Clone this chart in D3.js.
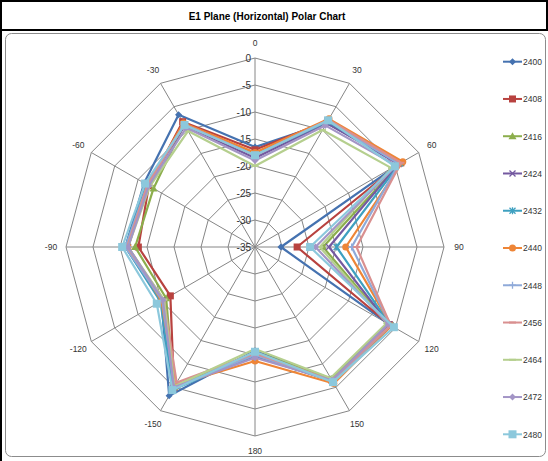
<!DOCTYPE html>
<html><head><meta charset="utf-8">
<script src="https://cdn.jsdelivr.net/npm/d3@7"></script>
<style>
html,body{margin:0;padding:0;background:#fff;}
svg{display:block;font-family:"Liberation Sans",Arial,sans-serif;}
</style></head>
<body><svg id="c" width="548" height="461"></svg>
<script>
const angleLabels = ["0","30","60","90","120","150","180","-150","-120","-90","-60","-30"];
const radialTicks = [-35,-30,-25,-20,-15,-10,-5,0];
const seriesNames = ["2400","2408","2416","2424","2432","2440","2448","2456","2464","2472","2480"];
const s2400 = [-16.5,-8.5,-4.0,-30.2,-6.0,-6.8,-15.8,-3.2,-15.0,-11.0,-11.3,-6.7];
const s2408 = [-17.0,-8.0,-3.8,-27.2,-6.3,-6.5,-15.5,-5.0,-16.9,-13.4,-12.3,-8.2];
const s2416 = [-17.8,-8.2,-4.0,-22.4,-6.5,-6.8,-15.5,-5.0,-16.0,-12.8,-13.3,-8.8];
const s2424 = [-18.5,-8.5,-4.3,-21.3,-6.3,-6.3,-14.8,-4.8,-15.2,-11.5,-12.0,-9.0];
const s2432 = [-18.0,-8.2,-4.0,-19.9,-6.0,-6.3,-15.0,-4.5,-14.8,-11.0,-11.8,-8.8];
const s2440 = [-17.5,-7.6,-3.4,-18.2,-5.8,-5.8,-13.9,-5.5,-15.0,-11.5,-12.0,-8.5];
const s2448 = [-18.0,-8.0,-4.2,-17.1,-6.0,-6.3,-15.0,-5.0,-15.2,-11.0,-12.0,-8.8];
const s2456 = [-18.0,-7.8,-3.8,-16.2,-6.0,-6.5,-15.3,-6.0,-15.5,-11.3,-12.0,-8.8];
const s2464 = [-20.0,-10.0,-5.8,-23.0,-6.8,-7.0,-16.1,-5.2,-15.5,-11.5,-12.5,-10.2];
const s2472 = [-19.0,-9.0,-4.8,-23.8,-6.5,-6.5,-14.5,-5.0,-15.3,-11.5,-12.3,-9.5];
const s2480 = [-18.0,-7.9,-5.1,-24.8,-5.3,-6.1,-15.6,-4.4,-14.0,-10.4,-11.5,-8.9];
const seriesValues = [s2400,s2408,s2416,s2424,s2432,s2440,s2448,s2456,s2464,s2472,s2480];
const colors = ["#4572B0","#B8423F","#8CAE4C","#7459A0","#3EA0C0","#EE8537","#8FAAD9","#D99090","#B5CF8E","#A395C6","#8CC8DC"];
const markers = ["diamond","square","triangle","x","star","circle","plus","dash","dash","diamond","bigsquare"];

const svg = d3.select("#c");
// frames
svg.append("rect").attr("x",1).attr("y",1).attr("width",546).attr("height",29).attr("fill","none").attr("stroke","#000").attr("stroke-width",2);
svg.append("line").attr("x1",1).attr("x2",1).attr("y1",1).attr("y2",461).attr("stroke","#000").attr("stroke-width",2);
svg.append("rect").attr("x",5.5).attr("y",33.5).attr("width",540).attr("height",423).attr("rx",6).attr("fill","none").attr("stroke","#8c8c8c").attr("stroke-width",1);
svg.append("text").attr("x",267).attr("y",20).attr("text-anchor","middle").attr("font-size",10).attr("font-weight","bold").text("E1 Plane (Horizontal) Polar Chart");

const cx = 255, cy = 247, R = 189;
const r = d3.scaleLinear().domain([-35,0]).range([0,R]);
const ang = d3.scaleLinear().domain([0,angleLabels.length]).range([0,2*Math.PI]);
const pt = (i,v) => [cx + r(v)*Math.sin(ang(i)), cy - r(v)*Math.cos(ang(i))];

const g = svg.append("g");
radialTicks.slice(1).forEach(t => {
  const pts = angleLabels.map((_,i)=>pt(i,t));
  g.append("path").attr("d", d3.line()(pts)+"Z").attr("fill","none").attr("stroke","#868686").attr("stroke-width",1);
});
angleLabels.forEach((a,i)=>{
  const [x,y] = pt(i,0);
  g.append("line").attr("x1",cx).attr("y1",cy).attr("x2",x).attr("y2",y).attr("stroke","#868686").attr("stroke-width",1);
  const lx = cx + (R+15)*Math.sin(ang(i)), ly = cy - (R+15)*Math.cos(ang(i));
  g.append("text").attr("x",lx).attr("y",ly+3).attr("text-anchor","middle").attr("font-size",8.5).attr("fill","#333").text(a);
});
radialTicks.forEach(t=>{
  g.append("text").attr("x",cx-4).attr("y",cy - r(t)+3.5).attr("text-anchor","end").attr("font-size",10).attr("fill","#333").text(t);
});

function drawMarker(sel, type, x, y, col){
  if(type==="diamond"){ sel.append("path").attr("d",`M${x},${y-3.5}L${x+3.5},${y}L${x},${y+3.5}L${x-3.5},${y}Z`).attr("fill",col); }
  else if(type==="square"){ sel.append("rect").attr("x",x-3.5).attr("y",y-3.5).attr("width",7).attr("height",7).attr("fill",col); }
  else if(type==="bigsquare"){ sel.append("rect").attr("x",x-4).attr("y",y-4).attr("width",8).attr("height",8).attr("fill",col); }
  else if(type==="triangle"){ sel.append("path").attr("d",`M${x},${y-4}L${x+4},${y+3}L${x-4},${y+3}Z`).attr("fill",col); }
  else if(type==="x"){ sel.append("path").attr("d",`M${x-3},${y-3}L${x+3},${y+3}M${x+3},${y-3}L${x-3},${y+3}`).attr("stroke",col).attr("stroke-width",1.3); }
  else if(type==="star"){ sel.append("path").attr("d",`M${x-3},${y-3}L${x+3},${y+3}M${x+3},${y-3}L${x-3},${y+3}M${x},${y-3.5}L${x},${y+3.5}`).attr("stroke",col).attr("stroke-width",1.3); }
  else if(type==="circle"){ sel.append("circle").attr("cx",x).attr("cy",y).attr("r",3.5).attr("fill",col); }
  else if(type==="plus"){ sel.append("path").attr("d",`M${x-3.5},${y}L${x+3.5},${y}M${x},${y-3.5}L${x},${y+3.5}`).attr("stroke",col).attr("stroke-width",1.3); }
  else if(type==="dash"){ sel.append("path").attr("d",`M${x-3.5},${y}L${x+3.5},${y}`).attr("stroke",col).attr("stroke-width",2); }
}

const sg = svg.append("g");
seriesValues.forEach((vals,si)=>{
  const pts = vals.map((v,i)=>pt(i,v));
  sg.append("path").attr("d", d3.line()(pts)+"Z").attr("fill","none").attr("stroke",colors[si]).attr("stroke-width",2.2).attr("stroke-linejoin","round");
  pts.forEach(p=>drawMarker(sg, markers[si], p[0], p[1], colors[si]));
});

const ly = d3.scaleLinear().domain([0,seriesNames.length-1]).range([61.7,434.3]);
seriesNames.forEach((n,i)=>{
  const y = ly(i);
  svg.append("line").attr("x1",503).attr("x2",522).attr("y1",y).attr("y2",y).attr("stroke",colors[i]).attr("stroke-width",2);
  drawMarker(svg, markers[i], 512.5, y, colors[i]);
  svg.append("text").attr("x",523).attr("y",y+3.3).attr("font-size",8.5).attr("fill","#333").text(n);
});
</script></body></html>
